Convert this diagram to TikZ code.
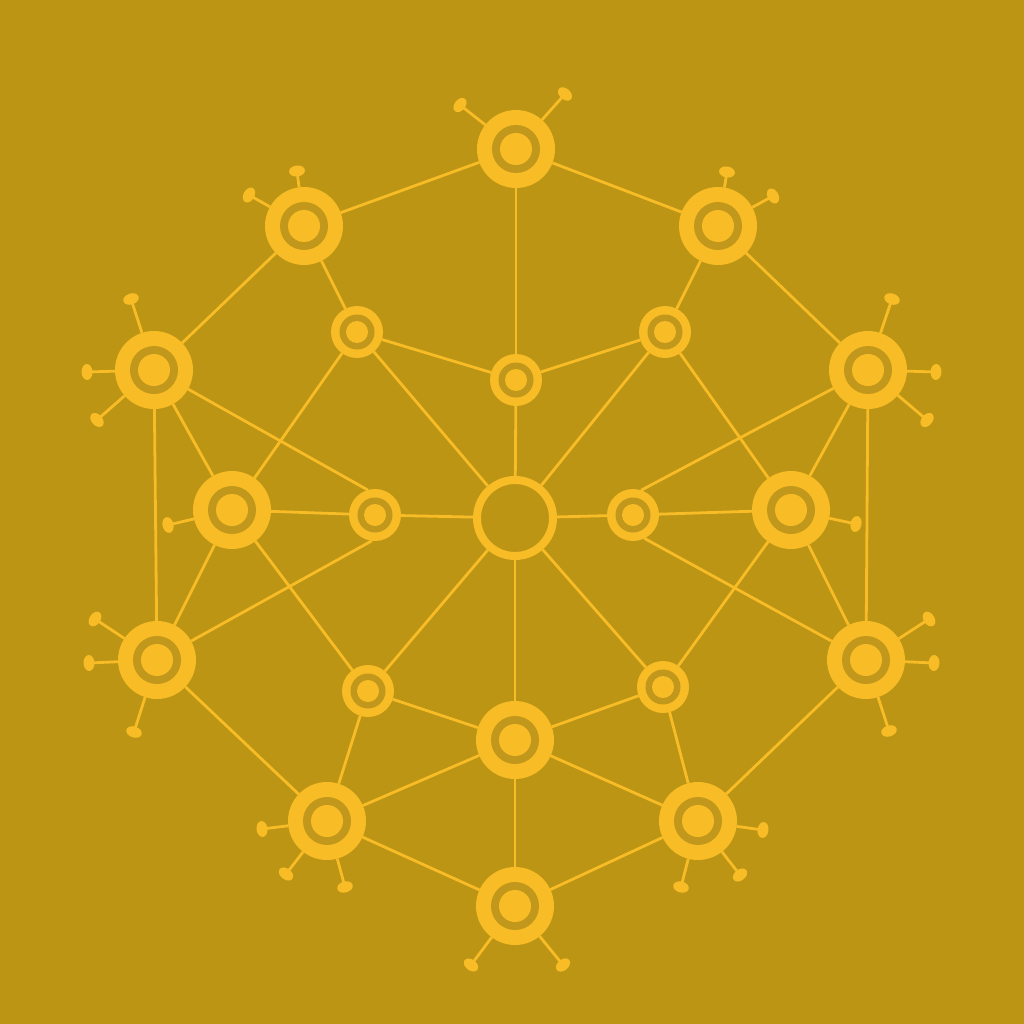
\documentclass[tikz,border=0pt]{standalone}
\usetikzlibrary{shapes.geometric}
\definecolor{bgc}{RGB}{189,149,21}
\definecolor{yel}{RGB}{247,188,38}
\definecolor{ringc}{RGB}{194,152,28}
\begin{document}
\begin{tikzpicture}[x=1pt,y=-1pt,
  link/.style={draw=yel,line width=2.8pt},
  bignode/.style={circle,fill=yel,minimum size=78pt,inner sep=0pt,outer sep=0pt,
    path picture={\fill[ringc] (path picture bounding box.center) circle (24pt);
                  \fill[yel] (path picture bounding box.center) circle (16pt);}},
  smallnode/.style={circle,fill=yel,minimum size=52pt,inner sep=0pt,outer sep=0pt,
    path picture={\fill[ringc] (path picture bounding box.center) circle (17.5pt);
                  \fill[yel] (path picture bounding box.center) circle (11pt);}},
  hub/.style={circle,draw=yel,line width=8pt,minimum size=76pt,inner sep=0pt},
  pinhead/.style={ellipse,fill=yel,minimum width=11pt,minimum height=16pt,inner sep=0pt,sloped}
]
\fill[bgc] (0,0) rectangle (1024,1024);

% big nodes
\node[bignode] (T)  at (516,149) {};
\node[bignode] (TL) at (304,226) {};
\node[bignode] (TR) at (718,226) {};
\node[bignode] (L1) at (154,370) {};
\node[bignode] (R1) at (868,370) {};
\node[bignode] (L2) at (232,510) {};
\node[bignode] (R2) at (791,510) {};
\node[bignode] (L3) at (157,660) {};
\node[bignode] (R3) at (866,660) {};
\node[bignode] (BL) at (327,821) {};
\node[bignode] (BR) at (698,821) {};
\node[bignode] (BC) at (515,740) {};
\node[bignode] (B)  at (515,906) {};
% small nodes
\node[smallnode] (s1) at (357,332) {};
\node[smallnode] (s2) at (665,332) {};
\node[smallnode] (s3) at (516,380) {};
\node[smallnode] (s4) at (375,515) {};
\node[smallnode] (s5) at (633,515) {};
\node[smallnode] (s6) at (368,691) {};
\node[smallnode] (s7) at (663,687) {};
% hub
\node[hub] (C) at (515,518) {};

% connectors
\draw[link] (T) -- (TL);
\draw[link] (T) -- (TR);
\draw[link] (T) -- (s3);
\draw[link] (TL) -- (L1);
\draw[link] (TL) -- (s1);
\draw[link] (TR) -- (s2);
\draw[link] (TR) -- (R1);
\draw[link] (L1) -- (L2);
\draw[link] (L1) -- (L3);
\draw[link] (L1) -- (s4.106);
\draw[link] (R1) -- (R2);
\draw[link] (R1) -- (R3);
\draw[link] (R1) -- (s5.72);
\draw[link] (L2) -- (s1);
\draw[link] (L2) -- (s4);
\draw[link] (L2) -- (L3);
\draw[link] (L2) -- (s6);
\draw[link] (R2) -- (s2);
\draw[link] (R2) -- (s5);
\draw[link] (R2) -- (R3);
\draw[link] (R2) -- (s7);
\draw[link] (L3) -- (s4.-97);
\draw[link] (L3) -- (BL);
\draw[link] (R3) -- (s5.-64);
\draw[link] (R3) -- (BR);
\draw[link] (s1) -- (s3);
\draw[link] (s2) -- (s3);
\draw[link] (s1) -- (C);
\draw[link] (s2) -- (C);
\draw[link] (s3) -- (C);
\draw[link] (s4) -- (C);
\draw[link] (s5) -- (C);
\draw[link] (s6) -- (C);
\draw[link] (s7) -- (C);
\draw[link] (BC) -- (C);
\draw[link] (s6) -- (BL);
\draw[link] (s6) -- (BC);
\draw[link] (s7) -- (BR);
\draw[link] (s7) -- (BC);
\draw[link] (BL) -- (BC);
\draw[link] (BL) -- (B);
\draw[link] (BR) -- (BC);
\draw[link] (BR) -- (B);
\draw[link] (BC) -- (B);

% antennae
\coordinate (aT1) at (460,105);  \coordinate (aT2) at (565,94);
\coordinate (aTL1) at (297,171); \coordinate (aTL2) at (249,195);
\coordinate (aTR1) at (727,172); \coordinate (aTR2) at (773,196);
\coordinate (aL11) at (131,299); \coordinate (aL12) at (87,372); \coordinate (aL13) at (97,420);
\coordinate (aR11) at (892,299); \coordinate (aR12) at (936,372); \coordinate (aR13) at (927,420);
\coordinate (aL21) at (168,525);
\coordinate (aR21) at (856,524);
\coordinate (aL31) at (95,619);  \coordinate (aL32) at (89,663); \coordinate (aL33) at (134,732);
\coordinate (aR31) at (929,619); \coordinate (aR32) at (934,663); \coordinate (aR33) at (889,731);
\coordinate (aBL1) at (262,829); \coordinate (aBL2) at (286,874); \coordinate (aBL3) at (345,887);
\coordinate (aBR1) at (763,830); \coordinate (aBR2) at (740,875); \coordinate (aBR3) at (681,887);
\coordinate (aB1) at (471,965);  \coordinate (aB2) at (563,965);

\foreach \n/\a in {T/aT1,T/aT2,TL/aTL1,TL/aTL2,TR/aTR1,TR/aTR2,
  L1/aL11,L1/aL12,L1/aL13,R1/aR11,R1/aR12,R1/aR13,L2/aL21,R2/aR21,
  L3/aL31,L3/aL32,L3/aL33,R3/aR31,R3/aR32,R3/aR33,
  BL/aBL1,BL/aBL2,BL/aBL3,BR/aBR1,BR/aBR2,BR/aBR3,B/aB1,B/aB2}
  \draw[link] (\n) -- (\a) node[pinhead,pos=1] {};
\end{tikzpicture}
\end{document}
